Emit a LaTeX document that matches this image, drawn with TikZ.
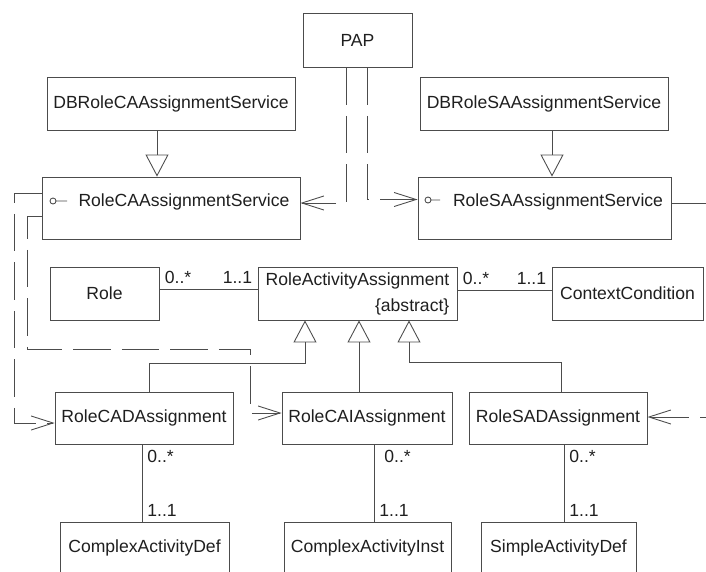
\documentclass[tikz,border=0pt]{standalone}
\usepackage{fontspec}
\setmainfont{Liberation Sans}
\usetikzlibrary{arrows.meta}
\definecolor{umlline}{gray}{0.3}
\definecolor{umltext}{gray}{0.12}

\begin{document}
\begin{tikzpicture}[
		font = \fontsize{10}{14.8}\selectfont,
		line width = 0.5pt,
		every node/.style = {text = umltext},
		umlclass/.style = {draw = umlline, fill = white, inner sep = 0pt, minimum height = 1.06cm},
		assoc/.style = {draw = umlline},
		mult/.style = {inner sep = 0.1cm},
		inherit/.style = {draw = umlline, -{Triangle[open, width = 0.46cm, length = 0.44cm]}},
		depend/.style = {draw = umlline, dash pattern = on 0.75cm off 0.22cm, -{Straight Barb[length = 0.44cm, width = 0.28cm]}}
	]
				\useasboundingbox (0,0) rectangle (14.12,11.42);
				\clip (0,0) rectangle (14.12,11.42);

				\node[umlclass, minimum width = 2.18cm, minimum height = 1.08cm] (pap) at (7.15,10.62) {PAP};
				\node[umlclass, minimum width = 4.96cm] (dbca) at (3.42,9.35) {DBRoleCAAssignmentService};
				\node[umlclass, minimum width = 4.96cm] (dbsa) at (10.88,9.35) {DBRoleSAAssignmentService};
				\node[umlclass, minimum width = 5.16cm, minimum height = 1.24cm] (rca) at (3.42,7.26) {};
				\node (rcaname) at (3.68,7.38) {RoleCAAssignmentService};
				\node[umlclass, minimum width = 5.06cm, minimum height = 1.24cm] (rsa) at (10.89,7.26) {};
				\node (rsaname) at (11.16,7.38) {RoleSAAssignmentService};
				\node[umlclass, minimum width = 2.18cm] (role) at (2.09,5.55) {Role};
				\node[umlclass, minimum width = 3.98cm, align = right] (raa) at (7.15,5.55) {RoleActivityAssignment\\\{abstract\}};
				\node[umlclass, minimum width = 3.02cm] (cc) at (12.55,5.55) {ContextCondition};
				\node[umlclass, minimum width = 3.56cm, minimum height = 1.04cm] (cad) at (2.88,3.06) {RoleCADAssignment};
				\node[umlclass, minimum width = 3.40cm, minimum height = 1.04cm] (cai) at (7.34,3.06) {RoleCAIAssignment};
				\node[umlclass, minimum width = 3.56cm, minimum height = 1.04cm] (sad) at (11.16,3.06) {RoleSADAssignment};
				\node[umlclass, minimum width = 3.38cm, minimum height = 1.02cm] (cdef) at (2.89,0.47) {ComplexActivityDef};
				\node[umlclass, minimum width = 3.34cm, minimum height = 1.02cm] (cinst) at (7.35,0.47) {ComplexActivityInst};
				\node[umlclass, minimum width = 3.10cm, minimum height = 1.02cm] (sdef) at (11.17,0.47) {SimpleActivityDef};

				\draw[umlline] (1.06,7.40) circle (0.06) (1.12,7.40) -- (1.34,7.40);
				\draw[umlline] (8.56,7.42) circle (0.06) (8.62,7.42) -- (8.80,7.42);

				\draw[inherit] (dbca.south -| 3.14,0) -- (rca.north -| 3.14,0);
				\draw[inherit] (dbsa.south -| 11.04,0) -- (rsa.north -| 11.04,0);
				\draw[inherit] (cad.north -| 2.98,0) |- (6.10,4.16) -- (raa.south -| 6.10,0);
				\draw[inherit] (cai.north -| 7.18,0) -- (raa.south -| 7.18,0);
				\draw[inherit] (sad.north -| 11.22,0) |- (8.18,4.18) -- (raa.south -| 8.18,0);

				\draw[assoc] (role.east |- 0,5.64) -- node[pos = 0, above right, mult] {0..*} node[pos = 1, above left, mult] {1..1} (raa.west |- 0,5.64);
				\draw[assoc] (raa.east |- 0,5.62) -- node[pos = 0, above right, mult] {0..*} node[pos = 1, above left, mult] {1..1} (cc.west |- 0,5.62);
				\draw[assoc] (cad.south -| 2.84,0) -- node[pos = 0, below right, mult] {0..*} node[pos = 1, above right, mult] {1..1} (cdef.north -| 2.84,0);
				\draw[assoc] (cai.south -| 7.48,0) -- node[pos = 0, below right, mult, xshift = 0.1cm] {0..*} node[pos = 1, above right, mult] {1..1} (cinst.north -| 7.48,0);
				\draw[assoc] (sad.south -| 11.28,0) -- node[pos = 0, below right, mult] {0..*} node[pos = 1, above right, mult] {1..1} (sdef.north -| 11.28,0);

				\draw[depend] (pap.south -| 6.92,0) |- (rca.east |- 0,7.36);
				\draw[depend] (pap.south -| 7.34,0) |- (rsa.west |- 0,7.43);
				\draw[depend] (rca.west |- 0,7.56) -- (0.28,7.56) |- (cad.west |- 0,2.96);
				\draw[depend] (rca.west |- 0,7.10) -- (0.54,7.10) |- (5.00,4.44) |- (cai.west |- 0,3.16);
				\draw[depend] (rsa.east |- 0,7.36) -- (14.37,7.36) |- (sad.east |- 0,3.08);
\end{tikzpicture}
\end{document}
